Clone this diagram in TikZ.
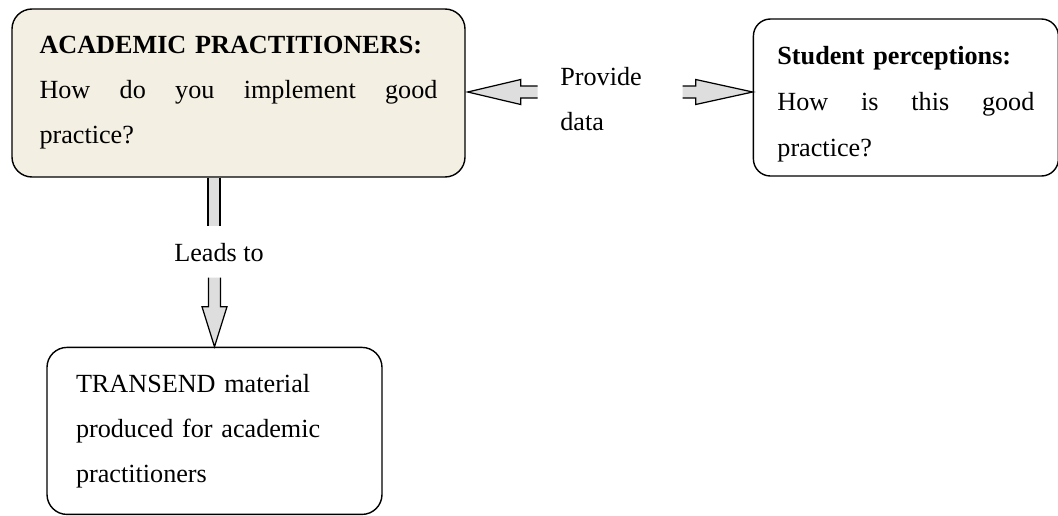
\documentclass[tikz,border=0pt]{standalone}
\usepackage{fontspec}
\setmainfont{Liberation Serif}
\usetikzlibrary{positioning}
\definecolor{paperbeige}{RGB}{243,239,226}
\definecolor{arrowgrey}{RGB}{222,222,222}

% block arrow: tip, angle, length, head length
\newcommand{\fatarrow}[4]{%
  \begin{scope}[shift={(#1)}, rotate=#2]
    \fill[arrowgrey] (0,0) -- (-#4,0.25) -- (-#4,0.12) -- (-#3,0.12) -- (-#3,-0.12) -- (-#4,-0.12) -- (-#4,-0.25) -- cycle;
    \draw[arrowline] (-#3,0.12) -- (-#4,0.12) -- (-#4,0.25) -- (0,0) -- (-#4,-0.25) -- (-#4,-0.12) -- (-#3,-0.12);
  \end{scope}}

\begin{document}
\begin{tikzpicture}[
  box/.style={draw, line width=0.8pt, rounded corners=0.4cm, align=left, font=\fontsize{14.9}{25.6}\selectfont},
  lbl/.style={inner sep=0pt, align=left, font=\fontsize{14.9}{25.6}\selectfont},
  arrowline/.style={line width=0.7pt, line join=miter}
]
\useasboundingbox (0,0) rectangle (21.16,-10.30);

\node[box, fill=paperbeige, text width=7.96cm, inner xsep=0.55cm, minimum height=3.36cm] (acad) at (4.77,-1.86)
  {\textbf{ACADEMIC PRACTITIONERS:}\\How\hfill do\hfill you\hfill implement\hfill good\\practice?};
\node[box, text width=5.14cm, inner xsep=0.48cm, minimum height=3.14cm, rounded corners=0.34cm,
  right=5.74cm of acad, yshift=-0.09cm, font=\fontsize{14.9}{26.2}\selectfont] (student)
  {\rule{0pt}{0.64cm}\textbf{Student perceptions:}\\How\hfill is\hfill this\hfill good\\practice?};
\node[box, text width=5.54cm, inner xsep=0.58cm, minimum height=3.34cm,
  below=3.38cm of acad.south west, anchor=north west, xshift=0.70cm] (transend)
  {TRANSEND material\\produced for academic\\practitioners};

\node[lbl, anchor=west] (provide) at (11.2,-1.99) {Provide\\data};
\node[lbl] (leads) at (4.38,-5.06) {Leads to};

% provide data
\coordinate (ltip) at ([xshift=0.04cm, yshift=0.02cm]acad.east);
\coordinate (rtip) at (student.west |- ltip);
\fatarrow{ltip}{180}{1.40}{1.06}
\fatarrow{rtip}{0}{1.40}{1.14}

% leads to
\coordinate (stem) at ([xshift=-0.49cm]acad.south);
\fill[arrowgrey] ([xshift=-0.12cm]stem) rectangle ([xshift=0.12cm, yshift=-0.96cm]stem);
\draw[arrowline] ([xshift=-0.12cm]stem) -- ++(0,-0.96);
\draw[arrowline] ([xshift=0.12cm]stem) -- ++(0,-0.96);
\fatarrow{transend.north}{-90}{1.38}{0.80}
\end{tikzpicture}
\end{document}
